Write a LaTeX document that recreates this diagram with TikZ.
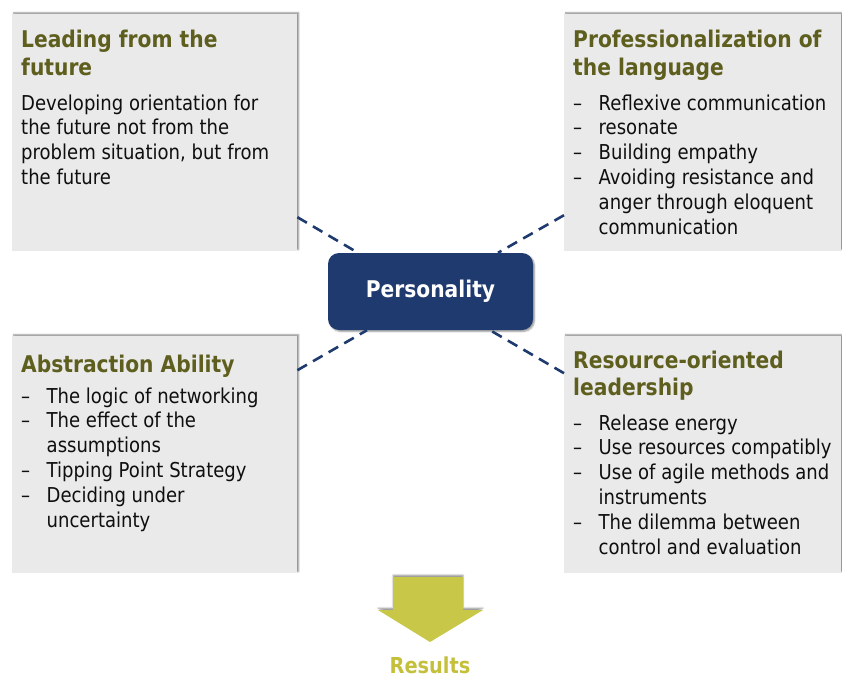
\documentclass[tikz,border=0pt]{standalone}
\usepackage{fontspec}
\setmainfont{DejaVu Sans}[FakeStretch=0.88]
\usetikzlibrary{shadows.blur}

\definecolor{panelgray}{RGB}{234,234,234}
\definecolor{headolive}{RGB}{94,94,30}
\definecolor{navy}{RGB}{31,58,110}
\definecolor{leaf}{RGB}{200,199,72}
\definecolor{leaftext}{RGB}{196,192,60}
\definecolor{ink}{RGB}{15,15,15}

% one line of a text block, a bulleted line, and its continuation
\newcommand\pline[1]{\hbox{#1}}
\newcommand\pitem[1]{\hbox{\makebox[25.5pt][l]{–}#1}}
\newcommand\pcont[1]{\hbox{\hspace*{25.5pt}#1}}

\begin{document}
\begin{tikzpicture}[x=1pt,y=-1pt,
  panel/.style={fill=panelgray, inner sep=0, anchor=north west,
    minimum width=285pt, minimum height=237pt,
    blur shadow={shadow xshift=1.5pt, shadow yshift=1.5pt,
      shadow blur radius=1.5pt, shadow opacity=45}},
  heading/.style={anchor=base west, inner sep=0, text=headolive,
    font=\fontsize{23}{27.5}\selectfont\bfseries},
  body/.style={anchor=base west, inner sep=0, text=ink,
    font=\fontsize{20.5}{24.8}\selectfont},
  link/.style={draw=navy, line width=2.6pt, dash pattern=on 11pt off 7pt},
]
\useasboundingbox (0,0) rectangle (842,677);

% four topic panels
\node[panel] (tl) at (12,14) {};
\node[panel, minimum width=277pt] (tr) at (564,14) {};
\node[panel] (bl) at (12,336) {};
\node[panel, minimum width=277pt] (br) at (564,336) {};

% centre
\node[fill=navy, rounded corners=11pt, minimum width=205pt, minimum height=77pt,
  text=white, font=\fontsize{23}{27}\selectfont\bfseries,
  blur shadow={shadow xshift=1.5pt, shadow yshift=-1.5pt,
    shadow blur radius=1.5pt, shadow opacity=40}]
  (pers) at (430.5,291.5) {Personality};

% dashed links between the centre and the panels
\draw[link] ([yshift=-84.5pt]tl.east) -- ([xshift=-72.5pt]pers.north);
\draw[link] ([yshift=-82.5pt]tr.west) -- ([xshift=67.5pt]pers.north);
\draw[link] ([yshift=84.5pt]bl.east) -- ([xshift=-63.5pt]pers.south);
\draw[link] ([yshift=81.5pt]br.west) -- ([xshift=59.5pt]pers.south);

% panel texts
\node[heading] (tlh) at (21,48) {\vtop{\pline{Leading from the}\pline{future}}};
\node[body] (tlb) at (21,110) {\vtop{%
  \pline{Developing orientation for}
  \pline{the future not from the}
  \pline{problem situation, but from}
  \pline{the future}}};

\node[heading] (trh) at (573,48) {\vtop{\pline{Professionalization of}\pline{the language}}};
\node[body] (trb) at (573,110) {\vtop{%
  \pitem{Reflexive communication}
  \pitem{resonate}
  \pitem{Building empathy}
  \pitem{Avoiding resistance and}
  \pcont{anger through eloquent}
  \pcont{communication}}};

\node[heading] (blh) at (21,372) {\vtop{\pline{Abstraction Ability}}};
\node[body] (blb) at (21,403) {\vtop{%
  \pitem{The logic of networking}
  \pitem{The effect of the}
  \pcont{assumptions}
  \pitem{Tipping Point Strategy}
  \pitem{Deciding under}
  \pcont{uncertainty}}};

\node[heading] (brh) at (573,368) {\vtop{\pline{Resource-oriented}\pline{leadership}}};
\node[body] (brb) at (573,430) {\vtop{%
  \pitem{Release energy}
  \pitem{Use resources compatibly}
  \pitem{Use of agile methods and}
  \pcont{instruments}
  \pitem{The dilemma between}
  \pcont{control and evaluation}}};

% outcome arrow
\path[fill=leaf, blur shadow={shadow xshift=0pt, shadow yshift=2pt,
    shadow blur radius=1.5pt, shadow opacity=40}]
  (393,577) -- (463,577) -- (463,610) -- (483,610) -- (430,642)
  -- (378,610) -- (393,610) -- cycle;
\node[anchor=base, inner sep=0, text=leaftext,
  font=\fontsize{22}{26}\selectfont\bfseries] (res) at (430,673) {Results};
\end{tikzpicture}
\end{document}
